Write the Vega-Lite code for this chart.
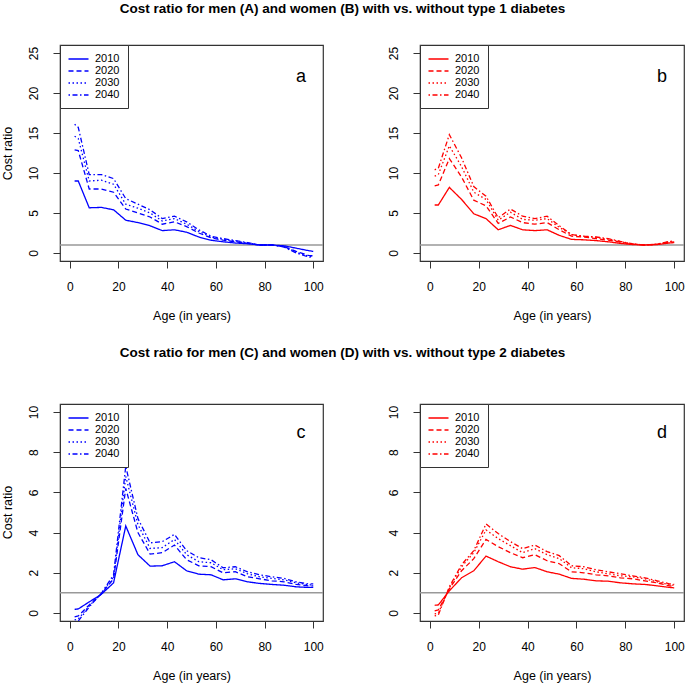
{
  "$schema": "https://vega.github.io/schema/vega-lite/v6.json",
  "background": "white",
  "padding": {"left": 0, "top": 1, "right": 0, "bottom": 0},
  "data": {"values": [
    {"panel":"a","age":2,"2010":9.0,"2020":12.9,"2030":14.6,"2040":16.1},
    {"panel":"a","age":3.5,"2010":9.0,"2020":12.8,"2030":14.3,"2040":15.7},
    {"panel":"a","age":8,"2010":5.65,"2020":8.0,"2030":9.0,"2040":9.8},
    {"panel":"a","age":13,"2010":5.7,"2020":8.0,"2030":9.1,"2040":9.8},
    {"panel":"a","age":18,"2010":5.4,"2020":7.6,"2030":8.6,"2040":9.3},
    {"panel":"a","age":23,"2010":4.1,"2020":5.5,"2030":6.1,"2040":6.8},
    {"panel":"a","age":28,"2010":3.8,"2020":5.0,"2030":5.6,"2040":6.1},
    {"panel":"a","age":33,"2010":3.4,"2020":4.5,"2030":5.0,"2040":5.4},
    {"panel":"a","age":38,"2010":2.8,"2020":3.6,"2030":4.0,"2040":4.3},
    {"panel":"a","age":43,"2010":2.9,"2020":3.9,"2030":4.3,"2040":4.6},
    {"panel":"a","age":48,"2010":2.6,"2020":3.3,"2030":3.6,"2040":3.9},
    {"panel":"a","age":53,"2010":2.0,"2020":2.5,"2030":2.7,"2040":2.9},
    {"panel":"a","age":58,"2010":1.6,"2020":1.9,"2030":2.0,"2040":2.1},
    {"panel":"a","age":63,"2010":1.4,"2020":1.6,"2030":1.7,"2040":1.8},
    {"panel":"a","age":68,"2010":1.25,"2020":1.4,"2030":1.5,"2040":1.55},
    {"panel":"a","age":73,"2010":1.15,"2020":1.2,"2030":1.25,"2040":1.3},
    {"panel":"a","age":78,"2010":1.0,"2020":1.0,"2030":1.0,"2040":1.0},
    {"panel":"a","age":83,"2010":1.0,"2020":1.0,"2030":1.0,"2040":1.0},
    {"panel":"a","age":88,"2010":0.9,"2020":0.8,"2030":0.8,"2040":0.75},
    {"panel":"a","age":93,"2010":0.6,"2020":0.2,"2030":0.1,"2040":0.0},
    {"panel":"a","age":98,"2010":0.3,"2020":-0.3,"2030":-0.4,"2040":-0.5},
    {"panel":"a","age":100,"2010":0.2,"2020":-0.35,"2030":-0.45,"2040":-0.55},
    {"panel":"b","age":2,"2010":6.0,"2020":8.4,"2030":9.6,"2040":10.4},
    {"panel":"b","age":3.5,"2010":6.0,"2020":8.5,"2030":9.8,"2040":10.6},
    {"panel":"b","age":8,"2010":8.2,"2020":11.8,"2030":13.4,"2040":14.8},
    {"panel":"b","age":13,"2010":6.7,"2020":9.5,"2030":10.8,"2040":11.9},
    {"panel":"b","age":18,"2010":4.9,"2020":6.6,"2030":7.6,"2040":8.3},
    {"panel":"b","age":23,"2010":4.3,"2020":5.9,"2030":6.7,"2040":7.1},
    {"panel":"b","age":28,"2010":2.9,"2020":3.7,"2030":4.1,"2040":4.4},
    {"panel":"b","age":33,"2010":3.45,"2020":4.5,"2030":5.1,"2040":5.5},
    {"panel":"b","age":38,"2010":2.9,"2020":3.8,"2030":4.2,"2040":4.6},
    {"panel":"b","age":43,"2010":2.8,"2020":3.6,"2030":4.1,"2040":4.3},
    {"panel":"b","age":48,"2010":2.9,"2020":3.8,"2030":4.3,"2040":4.6},
    {"panel":"b","age":53,"2010":2.2,"2020":2.9,"2030":3.2,"2040":3.4},
    {"panel":"b","age":58,"2010":1.7,"2020":2.1,"2030":2.3,"2040":2.3},
    {"panel":"b","age":63,"2010":1.65,"2020":2.0,"2030":2.1,"2040":2.1},
    {"panel":"b","age":68,"2010":1.55,"2020":1.8,"2030":1.95,"2040":2.0},
    {"panel":"b","age":73,"2010":1.4,"2020":1.6,"2030":1.75,"2040":1.8},
    {"panel":"b","age":78,"2010":1.2,"2020":1.35,"2030":1.4,"2040":1.45},
    {"panel":"b","age":83,"2010":1.05,"2020":1.1,"2030":1.15,"2040":1.15},
    {"panel":"b","age":88,"2010":1.0,"2020":1.0,"2030":1.0,"2040":1.0},
    {"panel":"b","age":93,"2010":1.05,"2020":1.1,"2030":1.1,"2040":1.1},
    {"panel":"b","age":98,"2010":1.25,"2020":1.35,"2030":1.4,"2040":1.45},
    {"panel":"b","age":100,"2010":1.3,"2020":1.4,"2030":1.45,"2040":1.5},
    {"panel":"c","age":2,"2010":0.18,"2020":-0.2,"2030":-0.35,"2040":-0.45},
    {"panel":"c","age":3.5,"2010":0.2,"2020":-0.15,"2030":-0.3,"2040":-0.4},
    {"panel":"c","age":8,"2010":0.55,"2020":0.4,"2030":0.35,"2040":0.3},
    {"panel":"c","age":13,"2010":0.93,"2020":0.95,"2030":0.97,"2040":0.98},
    {"panel":"c","age":18,"2010":1.5,"2020":1.7,"2030":1.8,"2040":1.9},
    {"panel":"c","age":23,"2010":4.33,"2020":6.2,"2030":6.8,"2040":7.3},
    {"panel":"c","age":28,"2010":2.9,"2020":4.0,"2030":4.4,"2040":4.7},
    {"panel":"c","age":33,"2010":2.33,"2020":2.93,"2030":3.21,"2040":3.49},
    {"panel":"c","age":38,"2010":2.35,"2020":3.0,"2030":3.25,"2040":3.55},
    {"panel":"c","age":43,"2010":2.55,"2020":3.38,"2030":3.66,"2040":3.91},
    {"panel":"c","age":48,"2010":2.1,"2020":2.65,"2030":2.9,"2040":3.1},
    {"panel":"c","age":53,"2010":1.93,"2020":2.35,"2030":2.55,"2040":2.75},
    {"panel":"c","age":58,"2010":1.9,"2020":2.3,"2030":2.5,"2040":2.65},
    {"panel":"c","age":63,"2010":1.65,"2020":2.0,"2030":2.15,"2040":2.25},
    {"panel":"c","age":68,"2010":1.7,"2020":2.05,"2030":2.2,"2040":2.3},
    {"panel":"c","age":73,"2010":1.55,"2020":1.8,"2030":1.95,"2040":2.05},
    {"panel":"c","age":78,"2010":1.47,"2020":1.7,"2030":1.8,"2040":1.9},
    {"panel":"c","age":83,"2010":1.42,"2020":1.6,"2030":1.72,"2040":1.8},
    {"panel":"c","age":88,"2010":1.38,"2020":1.55,"2030":1.65,"2040":1.72},
    {"panel":"c","age":93,"2010":1.3,"2020":1.42,"2030":1.5,"2040":1.55},
    {"panel":"c","age":98,"2010":1.27,"2020":1.35,"2030":1.4,"2040":1.45},
    {"panel":"c","age":100,"2010":1.27,"2020":1.35,"2030":1.4,"2040":1.45},
    {"panel":"d","age":2,"2010":0.38,"2020":0.1,"2030":-0.05,"2040":-0.15},
    {"panel":"d","age":3.5,"2010":0.4,"2020":0.15,"2030":0.0,"2040":-0.1},
    {"panel":"d","age":8,"2010":1.1,"2020":1.2,"2030":1.25,"2040":1.3},
    {"panel":"d","age":13,"2010":1.75,"2020":2.1,"2030":2.3,"2040":2.4},
    {"panel":"d","age":18,"2010":2.1,"2020":2.7,"2030":3.0,"2040":3.1},
    {"panel":"d","age":23,"2010":2.83,"2020":3.66,"2030":4.13,"2040":4.43},
    {"panel":"d","age":28,"2010":2.55,"2020":3.3,"2030":3.7,"2040":3.95},
    {"panel":"d","age":33,"2010":2.3,"2020":3.0,"2030":3.35,"2040":3.55},
    {"panel":"d","age":38,"2010":2.18,"2020":2.75,"2030":3.0,"2040":3.2},
    {"panel":"d","age":43,"2010":2.26,"2020":2.9,"2030":3.2,"2040":3.38},
    {"panel":"d","age":48,"2010":2.05,"2020":2.6,"2030":2.9,"2040":3.05},
    {"panel":"d","age":53,"2010":1.93,"2020":2.45,"2030":2.7,"2040":2.85},
    {"panel":"d","age":58,"2010":1.72,"2020":2.05,"2030":2.25,"2040":2.35},
    {"panel":"d","age":63,"2010":1.68,"2020":2.0,"2030":2.2,"2040":2.3},
    {"panel":"d","age":68,"2010":1.6,"2020":1.9,"2030":2.05,"2040":2.15},
    {"panel":"d","age":73,"2010":1.58,"2020":1.85,"2030":1.95,"2040":2.05},
    {"panel":"d","age":78,"2010":1.5,"2020":1.75,"2030":1.85,"2040":1.95},
    {"panel":"d","age":83,"2010":1.45,"2020":1.7,"2030":1.8,"2040":1.85},
    {"panel":"d","age":88,"2010":1.42,"2020":1.6,"2030":1.7,"2040":1.75},
    {"panel":"d","age":93,"2010":1.35,"2020":1.5,"2030":1.55,"2040":1.6},
    {"panel":"d","age":98,"2010":1.27,"2020":1.35,"2030":1.4,"2040":1.45},
    {"panel":"d","age":100,"2010":1.25,"2020":1.33,"2030":1.38,"2040":1.42}
  ]},
  "transform": [{"fold": ["2010", "2020", "2030", "2040"], "as": ["year", "ratio"]}],
  "columns": 2,
  "bounds": "flush",
  "spacing": {"row": 143, "column": 97},
  "concat": [
    {
      "width": 263, "height": 216,
      "title": {"text": "Cost ratio for men (A) and women (B) with vs. without type 1 diabetes", "anchor": "middle", "dx": 151, "offset": 29},
      "layer": [
        {"data": {"values": [{}]}, "mark": {"type": "rule", "color": "#999999", "strokeWidth": 1.5},
         "encoding": {"y": {"datum": 1, "type": "quantitative", "scale": {"domain": [-1, 26], "nice": false, "zero": false}}}},
        {"transform": [{"filter": "datum.panel == 'a'"}],
         "mark": {"type": "line", "color": "#0000FF", "strokeWidth": 1.3, "clip": true},
         "encoding": {
           "x": {"field": "age", "type": "quantitative", "scale": {"domain": [-4, 104], "nice": false, "zero": false}, "axis": {"values": [0, 20, 40, 60, 80, 100], "title": "Age (in years)"}},
           "y": {"field": "ratio", "type": "quantitative", "scale": {"domain": [-1, 26], "nice": false, "zero": false}, "axis": {"values": [0, 5, 10, 15, 20, 25], "title": "Cost ratio"}},
           "strokeDash": {"field": "year", "type": "nominal", "scale": {"domain": ["2010", "2020", "2030", "2040"], "range": [[1, 0], [5, 3], [1.5, 2.5], [1.5, 2.5, 5, 2.5]]}, "legend": {"symbolStrokeColor": "#0000FF"}}
         }},
        {"data": {"values": [{"label": "a"}]}, "mark": {"type": "text", "fontSize": 18, "align": "center", "baseline": "middle"},
         "encoding": {"x": {"datum": 95, "type": "quantitative", "scale": {"domain": [-4, 104], "nice": false, "zero": false}}, "y": {"datum": 22, "type": "quantitative", "scale": {"domain": [-1, 26], "nice": false, "zero": false}}, "text": {"field": "label"}}}
      ]
    },
    {
      "width": 264, "height": 216,
      "layer": [
        {"data": {"values": [{}]}, "mark": {"type": "rule", "color": "#999999", "strokeWidth": 1.5},
         "encoding": {"y": {"datum": 1, "type": "quantitative", "scale": {"domain": [-1, 26], "nice": false, "zero": false}}}},
        {"transform": [{"filter": "datum.panel == 'b'"}],
         "mark": {"type": "line", "color": "#FF0000", "strokeWidth": 1.3, "clip": true},
         "encoding": {
           "x": {"field": "age", "type": "quantitative", "scale": {"domain": [-4, 104], "nice": false, "zero": false}, "axis": {"values": [0, 20, 40, 60, 80, 100], "title": "Age (in years)"}},
           "y": {"field": "ratio", "type": "quantitative", "scale": {"domain": [-1, 26], "nice": false, "zero": false}, "axis": {"values": [0, 5, 10, 15, 20, 25], "title": null}},
           "strokeDash": {"field": "year", "type": "nominal", "scale": {"domain": ["2010", "2020", "2030", "2040"], "range": [[1, 0], [5, 3], [1.5, 2.5], [1.5, 2.5, 5, 2.5]]}, "legend": {"symbolStrokeColor": "#FF0000"}}
         }},
        {"data": {"values": [{"label": "b"}]}, "mark": {"type": "text", "fontSize": 18, "align": "center", "baseline": "middle"},
         "encoding": {"x": {"datum": 95, "type": "quantitative", "scale": {"domain": [-4, 104], "nice": false, "zero": false}}, "y": {"datum": 22, "type": "quantitative", "scale": {"domain": [-1, 26], "nice": false, "zero": false}}, "text": {"field": "label"}}}
      ]
    },
    {
      "width": 263, "height": 217,
      "title": {"text": "Cost ratio for men (C) and women (D) with vs. without type 2 diabetes", "anchor": "middle", "dx": 151, "offset": 44},
      "layer": [
        {"data": {"values": [{}]}, "mark": {"type": "rule", "color": "#999999", "strokeWidth": 1.5},
         "encoding": {"y": {"datum": 1, "type": "quantitative", "scale": {"domain": [-0.4, 10.4], "nice": false, "zero": false}}}},
        {"transform": [{"filter": "datum.panel == 'c'"}],
         "mark": {"type": "line", "color": "#0000FF", "strokeWidth": 1.3, "clip": true},
         "encoding": {
           "x": {"field": "age", "type": "quantitative", "scale": {"domain": [-4, 104], "nice": false, "zero": false}, "axis": {"values": [0, 20, 40, 60, 80, 100], "title": "Age (in years)"}},
           "y": {"field": "ratio", "type": "quantitative", "scale": {"domain": [-0.4, 10.4], "nice": false, "zero": false}, "axis": {"values": [0, 2, 4, 6, 8, 10], "title": "Cost ratio"}},
           "strokeDash": {"field": "year", "type": "nominal", "scale": {"domain": ["2010", "2020", "2030", "2040"], "range": [[1, 0], [5, 3], [1.5, 2.5], [1.5, 2.5, 5, 2.5]]}, "legend": {"symbolStrokeColor": "#0000FF"}}
         }},
        {"data": {"values": [{"label": "c"}]}, "mark": {"type": "text", "fontSize": 18, "align": "center", "baseline": "middle"},
         "encoding": {"x": {"datum": 95, "type": "quantitative", "scale": {"domain": [-4, 104], "nice": false, "zero": false}}, "y": {"datum": 8.95, "type": "quantitative", "scale": {"domain": [-0.4, 10.4], "nice": false, "zero": false}}, "text": {"field": "label"}}}
      ]
    },
    {
      "width": 264, "height": 217,
      "layer": [
        {"data": {"values": [{}]}, "mark": {"type": "rule", "color": "#999999", "strokeWidth": 1.5},
         "encoding": {"y": {"datum": 1, "type": "quantitative", "scale": {"domain": [-0.4, 10.4], "nice": false, "zero": false}}}},
        {"transform": [{"filter": "datum.panel == 'd'"}],
         "mark": {"type": "line", "color": "#FF0000", "strokeWidth": 1.3, "clip": true},
         "encoding": {
           "x": {"field": "age", "type": "quantitative", "scale": {"domain": [-4, 104], "nice": false, "zero": false}, "axis": {"values": [0, 20, 40, 60, 80, 100], "title": "Age (in years)"}},
           "y": {"field": "ratio", "type": "quantitative", "scale": {"domain": [-0.4, 10.4], "nice": false, "zero": false}, "axis": {"values": [0, 2, 4, 6, 8, 10], "title": null}},
           "strokeDash": {"field": "year", "type": "nominal", "scale": {"domain": ["2010", "2020", "2030", "2040"], "range": [[1, 0], [5, 3], [1.5, 2.5], [1.5, 2.5, 5, 2.5]]}, "legend": {"symbolStrokeColor": "#FF0000"}}
         }},
        {"data": {"values": [{"label": "d"}]}, "mark": {"type": "text", "fontSize": 18, "align": "center", "baseline": "middle"},
         "encoding": {"x": {"datum": 95, "type": "quantitative", "scale": {"domain": [-4, 104], "nice": false, "zero": false}}, "y": {"datum": 8.95, "type": "quantitative", "scale": {"domain": [-0.4, 10.4], "nice": false, "zero": false}}, "text": {"field": "label"}}}
      ]
    }
  ],
  "resolve": {
    "scale": {"x": "independent", "y": "independent", "strokeDash": "independent"},
    "legend": {"strokeDash": "independent"}
  },
  "config": {
    "font": "Liberation Sans",
    "view": {"stroke": "#333333", "strokeWidth": 1.2},
    "title": {"fontSize": 13.5, "fontWeight": "bold", "font": "Liberation Sans", "color": "black"},
    "text": {"font": "Liberation Sans", "color": "black"},
    "axis": {
      "labelFont": "Liberation Sans", "titleFont": "Liberation Sans",
      "labelFontSize": 12, "titleFontSize": 12.5, "titleFontWeight": "normal",
      "labelColor": "black", "titleColor": "black",
      "tickColor": "#333333", "tickSize": 7, "tickWidth": 1,
      "domain": false, "grid": false
    },
    "axisX": {"labelPadding": 13.5, "titlePadding": 17},
    "axisY": {"labelAngle": 270, "labelAlign": "center", "labelBaseline": "middle", "labelPadding": 19.5,
              "titleAngle": 270, "titleAlign": "center", "titleBaseline": "middle", "titleX": -53, "titleY": 108},
    "legend": {
      "title": null, "orient": "top-left", "offset": 0,
      "strokeColor": "#333333", "fillColor": "white", "padding": 8,
      "symbolType": "M-2,0H2", "symbolSize": 100, "symbolStrokeWidth": 1.3, "symbolFillColor": "transparent",
      "symbolOffset": 4.5, "labelOffset": 10.5, "labelFontSize": 11, "labelFont": "Liberation Sans", "labelColor": "black",
      "rowPadding": 1
    }
  }
}
